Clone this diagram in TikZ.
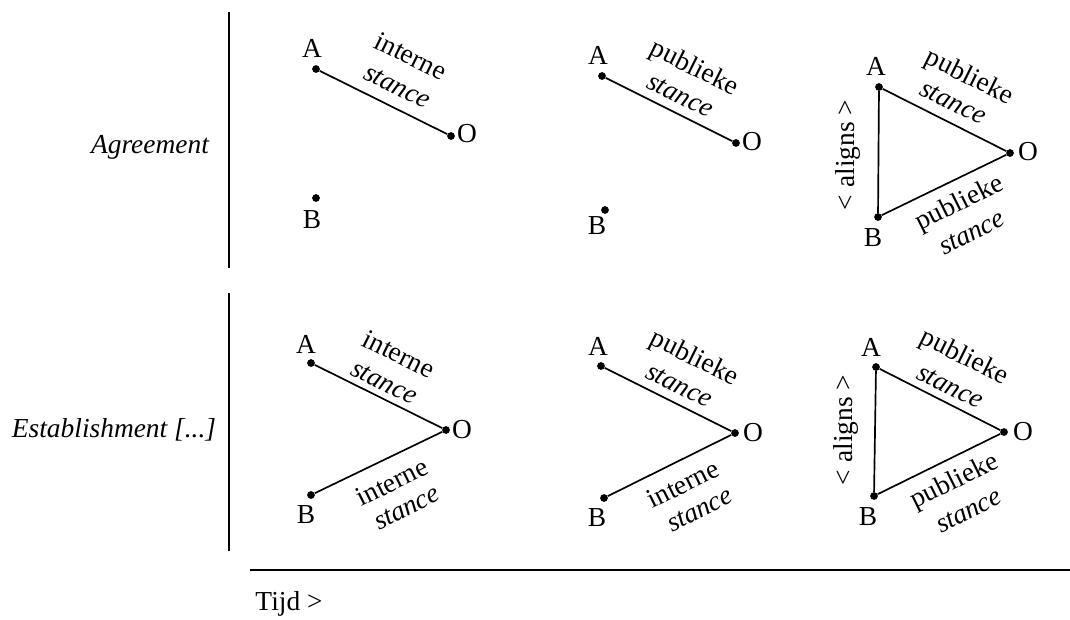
\documentclass[tikz,border=0pt]{standalone}
\usepackage{fontspec}
\setmainfont{Liberation Serif}
\usetikzlibrary{positioning, calc}
\def\rot{26.5}

\begin{document}
\begin{tikzpicture}[x=0.025cm, y=-0.025cm,
  pt/.style={circle, fill, inner sep=0pt, minimum size=5.5pt},
  lbl/.style={font=\fontsize{19.5}{23}\selectfont, inner sep=0pt},
  stn/.style={font=\fontsize{19.5}{23}\selectfont\itshape, inner sep=0pt},
  edge/.style={line width=1.2pt}]
  \useasboundingbox (0,0) rectangle (1070,619);
  % axes
  \coordinate (v1t) at (229,12);  \coordinate (v1b) at (229,268);
  \coordinate (v2t) at (229,293); \coordinate (v2b) at (229,551);
  \coordinate (hl) at (250,570);  \coordinate (hr) at (1070,570);
  \draw[line width=1.2pt] (v1t) -- (v1b);
  \draw[line width=1.2pt] (v2t) -- (v2b);
  \draw[line width=1.2pt] (hl) -- (hr);
  \node[stn] (agr) at (150,147) {Agreement};
  \node[stn] (est) at (114,430) {Establishment [...]};
  \node[lbl] (tijd) at (289,604) {Tijd >};

  % row 1, panel 1
  \node[pt] (a1) at (316,69) {};
  \node[pt] (o1) at (451,136) {};
  \node[pt] (b1) at (316,198) {};
  \node[lbl] at (312,48) {A};
  \node[lbl] at (467,134) {O};
  \node[lbl] at (312,220) {B};
  \draw[edge] (a1) -- (o1);
  \node[lbl,rotate=-\rot] at (411,56) {interne};
  \node[stn,rotate=-\rot] at (397,87) {stance};

  % row 1, panel 2
  \node[pt] (a2) at (602,76) {};
  \node[pt] (o2) at (736,143) {};
  \node[pt] (b2) at (605,210) {};
  \node[lbl] at (598,55) {A};
  \node[lbl] at (752,142) {O};
  \node[lbl] at (597,226) {B};
  \draw[edge] (a2) -- (o2);
  \node[lbl,rotate=-\rot] at (694,69) {publieke};
  \node[stn,rotate=-\rot] at (680,96) {stance};

  % row 1, panel 3
  \node[pt] (a3) at (879,87) {};
  \node[pt] (o3) at (1010,153) {};
  \node[pt] (b3) at (878,217) {};
  \node[lbl] at (876,66) {A};
  \node[lbl] at (1028,152) {O};
  \node[lbl] at (873,238) {B};
  \draw[edge] (a3) -- (o3) -- (b3) -- (a3);
  \node[lbl,rotate=-\rot] at (969,78) {publieke};
  \node[stn,rotate=-\rot] at (953,103) {stance};
  \node[lbl,rotate=\rot] at (960,204) {publieke};
  \node[stn,rotate=\rot] at (972,233) {stance};
  \node[lbl,rotate=90] at (848,155) {< aligns >};

  % row 2, panel 1
  \node[pt] (a4) at (311,363) {};
  \node[pt] (o4) at (446,430) {};
  \node[pt] (b4) at (311,495) {};
  \node[lbl] at (306,344) {A};
  \node[lbl] at (462,430) {O};
  \node[lbl] at (306,515) {B};
  \draw[edge] (a4) -- (o4) -- (b4);
  \node[lbl,rotate=-\rot] at (399,354) {interne};
  \node[stn,rotate=-\rot] at (384,383) {stance};
  \node[lbl,rotate=\rot] at (392,482) {interne};
  \node[stn,rotate=\rot] at (407,508) {stance};

  % row 2, panel 2
  \node[pt] (a5) at (601,366) {};
  \node[pt] (o5) at (735,433) {};
  \node[pt] (b5) at (604,498) {};
  \node[lbl] at (598,346) {A};
  \node[lbl] at (753,433) {O};
  \node[lbl] at (597,518) {B};
  \draw[edge] (a5) -- (o5) -- (b5);
  \node[lbl,rotate=-\rot] at (694,359) {publieke};
  \node[stn,rotate=-\rot] at (679,386) {stance};
  \node[lbl,rotate=\rot] at (683,484) {interne};
  \node[stn,rotate=\rot] at (700,510) {stance};

  % row 2, panel 3
  \node[pt] (a6) at (876,367) {};
  \node[pt] (o6) at (1004,432) {};
  \node[pt] (b6) at (874,496) {};
  \node[lbl] at (871,347) {A};
  \node[lbl] at (1023,432) {O};
  \node[lbl] at (868,517) {B};
  \draw[edge] (a6) -- (o6) -- (b6) -- (a6);
  \node[lbl,rotate=-\rot] at (964,358) {publieke};
  \node[stn,rotate=-\rot] at (950,387) {stance};
  \node[lbl,rotate=\rot] at (955,482) {publieke};
  \node[stn,rotate=\rot] at (969,511) {stance};
  \node[lbl,rotate=90] at (846,430) {< aligns >};
\end{tikzpicture}
\end{document}
